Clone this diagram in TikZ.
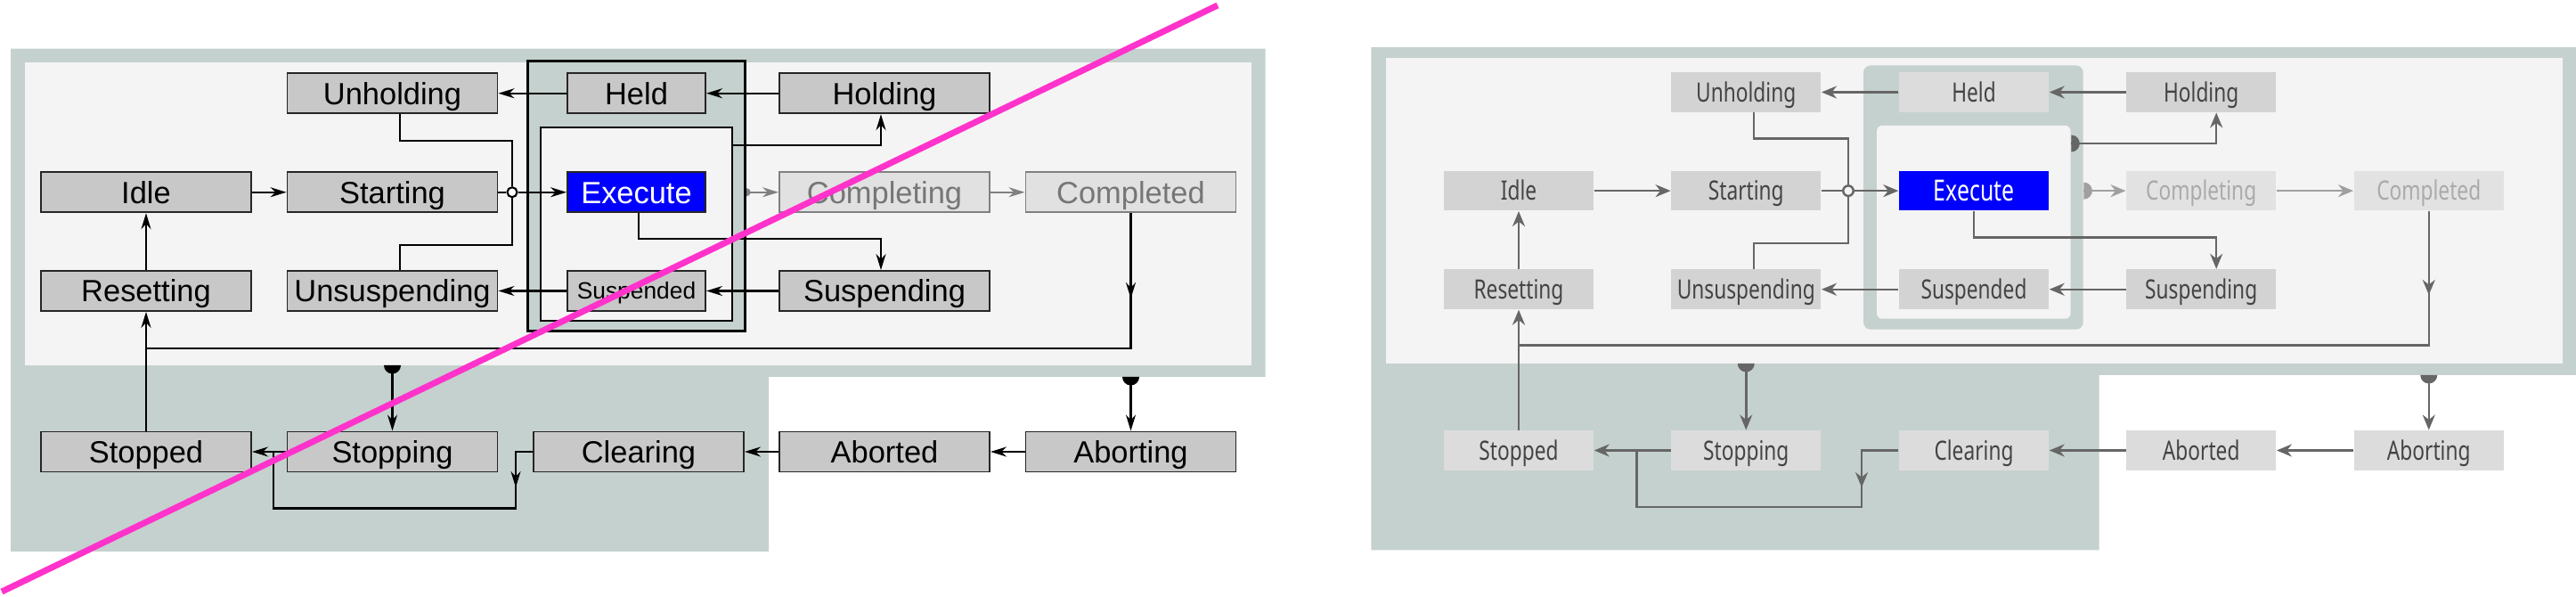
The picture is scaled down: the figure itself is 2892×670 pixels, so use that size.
\documentclass[tikz,border=0pt]{standalone}
\usepackage{fontspec}
\setmainfont{Liberation Sans}
\newfontfamily\condsans{Noto Sans}[FakeStretch=0.76]
\usetikzlibrary{arrows.meta}

\definecolor{bggreen}{RGB}{197,209,206}
\definecolor{bglight}{RGB}{244,244,244}
\definecolor{oldfill}{RGB}{200,200,200}
\definecolor{oldfadefill}{RGB}{225,225,225}
\definecolor{oldfadeline}{RGB}{128,128,128}
\definecolor{oldfadetext}{RGB}{118,118,118}
\definecolor{newfill}{RGB}{211,211,211}
\definecolor{newfilllight}{RGB}{220,220,220}
\definecolor{newfadefill}{RGB}{226,226,226}
\definecolor{newtext}{RGB}{68,68,68}
\definecolor{newfadetext}{RGB}{170,170,170}
\definecolor{nline}{RGB}{102,102,102}
\definecolor{nfadeline}{RGB}{160,160,160}
\definecolor{strikepink}{RGB}{255,51,204}

\tikzset{
	oldbox/.style={draw=black!85, line width=0.55pt, fill=oldfill, inner sep=0pt,
		minimum width=23.6mm, minimum height=4.5mm, text height=2.5mm, text depth=0pt,
		font=\fontsize{9.8}{10}\selectfont},
	oldnarrow/.style={oldbox, minimum width=15.5mm},
	oldfade/.style={oldbox, draw=oldfadeline, fill=oldfadefill, text=oldfadetext},
	oldsuper/.style={draw=black, line width=0.85pt, fill=bggreen, inner sep=0pt},
	oldinner/.style={draw=black, line width=0.7pt, fill=bglight, inner sep=0pt},
	oldline/.style={line width=0.6pt, black},
	oldarrow/.style={oldline, -{Stealth[length=1.8mm, width=1.1mm]}},
	oldfadearrow/.style={oldarrow, oldfadeline},
	ojunc/.style={shape=circle, draw=black, line width=0.6pt, fill=white, inner sep=0pt, minimum size=1.1mm},
	newbox/.style={fill=newfill, inner sep=0pt, text=newtext,
		minimum width=16.8mm, minimum height=4.45mm, text height=2.15mm, text depth=0pt,
		font=\condsans\fontsize{8.5}{9}\selectfont},
	newlight/.style={newbox, fill=newfilllight},
	newfade/.style={newbox, fill=newfadefill, text=newfadetext},
	newsuper/.style={fill=bggreen, rounded corners=0.8mm, inner sep=0pt},
	newinner/.style={fill=bglight, rounded corners=0.6mm, inner sep=0pt},
	newline/.style={line width=0.7pt, nline},
	newarrow/.style={newline, -{Stealth[length=1.7mm, width=1.4mm]}},
	newfadearrow/.style={newarrow, nfadeline},
	njunc/.style={shape=circle, draw=nline, line width=0.7pt, fill=bglight, inner sep=0pt, minimum size=1.15mm}
}

\begin{document}
\begin{tikzpicture}[x=0.1mm, y=-0.1mm]
	\useasboundingbox (0,0) rectangle (2892,670);

	% old chart (left)
	\fill[bggreen] (12,54.7) -- (1420.7,54.7) -- (1420.7,423) -- (863,423) -- (863,619) -- (12,619) -- cycle;
	\fill[bglight] (28,70.5) rectangle (1405,410);
	\draw (714.35,220.5) node[oldsuper, minimum width=24.47mm, minimum height=30.3mm](o-super){};
	\draw (714.5,251.5) node[oldinner, minimum width=21.5mm, minimum height=21.7mm](o-inner){};

	\draw (440.5,104.75) node[oldbox](o-unholding){Unholding};
	\draw (714.5,104.75) node[oldnarrow](o-held){Held};
	\draw (993,104.75) node[oldbox](o-holding){Holding};
	\draw (164,215.75) node[oldbox](o-idle){Idle};
	\draw (440.5,215.75) node[oldbox](o-starting){Starting};
	\draw (714.5,215.75) node[oldnarrow, fill=blue, text=white](o-execute){Execute};
	\draw (993,215.75) node[oldfade](o-completing){Completing};
	\draw (1269.5,215.75) node[oldfade](o-completed){Completed};
	\draw (164,326.5) node[oldbox](o-resetting){Resetting};
	\draw (440.5,326.5) node[oldbox](o-unsuspending){Unsuspending};
	\draw (714.5,326.5) node[oldnarrow, text height=1.9mm, font=\fontsize{7.5}{8}\selectfont](o-suspended){Suspended};
	\draw (993,326.5) node[oldbox](o-suspending){Suspending};
	\draw (164,507) node[oldbox](o-stopped){Stopped};
	\draw (440.5,507) node[oldbox](o-stopping){Stopping};
	\draw (717,507) node[oldbox](o-clearing){Clearing};
	\draw (993,507) node[oldbox](o-aborted){Aborted};
	\draw (1269.5,507) node[oldbox](o-aborting){Aborting};
	\draw (575,215.75) node[ojunc](o-junc){};

	\coordinate (o-mid) at (1269.5,335);
	\coordinate (o-ret) at (164,391);
	\coordinate (o-stopin) at (440.5,410);
	\coordinate (o-abortin) at (1269.5,423);
	\coordinate (o-loopa) at (579,570.5);
	\coordinate (o-loopb) at (307,570.5);
	\coordinate (o-looptip) at (579,547);

	\draw[oldarrow] (o-held) -- (o-unholding);
	\draw[oldarrow] (o-holding) -- (o-held);
	\draw[oldarrow] (o-idle) -- (o-starting);
	\draw[oldline] (o-starting) -- (o-junc);
	\draw[oldarrow] (o-junc) -- (o-execute);
	\draw[oldline] ([xshift=0.85mm]o-unholding.south) -- ++(0,30) -| (o-junc.north);
	\draw[oldline] ([xshift=0.85mm]o-unsuspending.north) -- ++(0,-28.4) -| (o-junc.south);
	\draw[oldarrow] (o-suspended) -- (o-unsuspending);
	\draw[oldarrow] (o-suspending) -- (o-suspended);
	\draw[oldarrow] ([xshift=0.25mm]o-execute.south) -- ++(0,29) -| ([xshift=-0.4mm]o-suspending.north);
	\draw[oldarrow] ([yshift=8.85mm]o-inner.east) -| ([xshift=-0.4mm]o-holding.south);
	\fill[oldfadeline] (o-super.east |- o-completing.west) ++(0,-4.5) arc[start angle=-90, end angle=90, radius=4.5] -- cycle;
	\draw[oldfadearrow] (o-super.east |- o-completing.west) -- (o-completing);
	\draw[oldfadearrow] (o-completing) -- (o-completed);
	\draw[oldline] (o-completed.south) |- (o-ret);
	\draw[oldarrow] (o-completed.south) -- (o-mid);
	\draw[oldarrow] (o-stopped) -- (o-resetting);
	\draw[oldarrow] (o-resetting) -- (o-idle);
	\fill[black] (o-stopin) ++(-9.5,0) arc[start angle=180, end angle=0, radius=9.5] -- cycle;
	\draw[oldarrow] (o-stopin) -- (o-stopping);
	\draw[oldarrow] (o-stopping) -- (o-stopped);
	\draw[oldline] (o-clearing.west) -| (o-loopa) -- (o-loopb) -- (o-loopb |- o-stopped.east);
	\draw[oldarrow] (o-clearing.west) -| (o-looptip);
	\draw[oldarrow] (o-aborted) -- (o-clearing);
	\draw[oldarrow] (o-aborting) -- (o-aborted);
	\fill[black] (o-abortin) ++(-9.5,0) arc[start angle=180, end angle=0, radius=9.5] -- cycle;
	\draw[oldarrow] (o-abortin) -- (o-aborting);

	% strike-through
	\draw[strikepink, line width=0.7mm] (2,664) -- (1367,6);

	% new chart (right)
	\fill[bggreen] (1539.3,53) -- (2892,53) -- (2892,421) -- (2356.6,421) -- (2356.6,617.5) -- (1539.3,617.5) -- cycle;
	\fill[bglight] (1555.5,65) rectangle (2876.7,408);
	\draw (2215.35,221.6) node[newsuper, minimum width=24.67mm, minimum height=29.62mm](n-super){};
	\draw (2215.8,249.35) node[newinner, minimum width=21.76mm, minimum height=21.67mm](n-inner){};

	\draw (1960.25,103.5) node[newbox](n-unholding){Unholding};
	\draw (2216,103.5) node[newlight](n-held){Held};
	\draw (2471.2,103.5) node[newbox](n-holding){Holding};
	\draw (1705,214.15) node[newbox](n-idle){Idle};
	\draw (1960.25,214.15) node[newbox](n-starting){Starting};
	\draw (2216,214.15) node[newbox, fill=blue, text=white, text height=2.35mm, font=\condsans\fontsize{9.3}{10}\selectfont](n-execute){Execute};
	\draw (2471.2,214.15) node[newfade](n-completing){Completing};
	\draw (2726.75,214.15) node[newfade](n-completed){Completed};
	\draw (1705,324.75) node[newbox](n-resetting){Resetting};
	\draw (1960.25,324.75) node[newbox](n-unsuspending){Unsuspending};
	\draw (2216,324.75) node[newbox](n-suspended){Suspended};
	\draw (2471.2,324.75) node[newbox](n-suspending){Suspending};
	\draw (1705,505.5) node[newlight](n-stopped){Stopped};
	\draw (1960.25,505.5) node[newlight](n-stopping){Stopping};
	\draw (2216,505.5) node[newlight](n-clearing){Clearing};
	\draw (2471.2,505.5) node[newlight](n-aborted){Aborted};
	\draw (2726.75,505.5) node[newlight](n-aborting){Aborting};
	\draw (2075,214.15) node[njunc](n-junc){};

	\coordinate (n-mid) at (2726.75,331);
	\coordinate (n-ret) at (1705,387.6);
	\coordinate (n-stopin) at (1960.25,408);
	\coordinate (n-abortin) at (2726.75,421);
	\coordinate (n-loopa) at (2090,569);
	\coordinate (n-loopb) at (1837.6,569);
	\coordinate (n-looptip) at (2090,547);

	\draw[newarrow] (n-held) -- (n-unholding);
	\draw[newarrow] (n-holding) -- (n-held);
	\draw[newarrow] (n-idle) -- (n-starting);
	\draw[newline] (n-starting) -- (n-junc);
	\draw[newarrow] (n-junc) -- (n-execute);
	\draw[newline] ([xshift=0.875mm]n-unholding.south) -- ++(0,29) -| (n-junc.north);
	\draw[newline] ([xshift=0.875mm]n-unsuspending.north) -- ++(0,-29) -| (n-junc.south);
	\draw[newarrow] (n-suspended) -- (n-unsuspending);
	\draw[newarrow] (n-suspending) -- (n-suspended);
	\draw[newarrow] (n-execute.south) -- ++(0,29.5) -| ([xshift=1.7mm]n-suspending.north);
	\fill[nline] ([yshift=8.835mm]n-inner.east) ++(0,-9.5) arc[start angle=-90, end angle=90, radius=9.5] -- cycle;
	\draw[newarrow] ([yshift=8.835mm]n-inner.east) -| ([xshift=1.7mm]n-holding.south);
	\fill[nfadeline] (n-super.east |- n-completing.west) ++(0,-9.5) arc[start angle=-90, end angle=90, radius=9.5] -- cycle;
	\draw[newfadearrow] (n-super.east |- n-completing.west) -- (n-completing);
	\draw[newfadearrow] (n-completing) -- (n-completed);
	\draw[newline] (n-completed.south) |- (n-ret);
	\draw[newarrow] (n-completed.south) -- (n-mid);
	\draw[newarrow] (n-stopped) -- (n-resetting);
	\draw[newarrow] (n-resetting) -- (n-idle);
	\fill[nline] (n-stopin) ++(-9.5,0) arc[start angle=180, end angle=0, radius=9.5] -- cycle;
	\draw[newarrow] (n-stopin) -- (n-stopping);
	\draw[newarrow] (n-stopping) -- (n-stopped);
	\draw[newline] (n-clearing.west) -| (n-loopa) -- (n-loopb) -- (n-loopb |- n-stopped.east);
	\draw[newarrow] (n-clearing.west) -| (n-looptip);
	\draw[newarrow] (n-aborted) -- (n-clearing);
	\draw[newarrow] (n-aborting) -- (n-aborted);
	\fill[nline] (n-abortin) ++(-9.5,0) arc[start angle=180, end angle=0, radius=9.5] -- cycle;
	\draw[newarrow] (n-abortin) -- (n-aborting);
\end{tikzpicture}
\end{document}
